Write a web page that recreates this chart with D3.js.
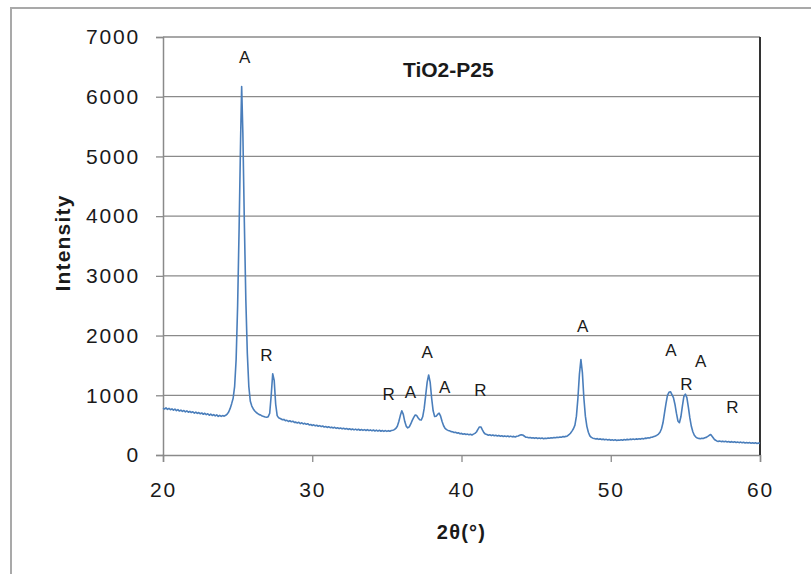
<!DOCTYPE html>
<html>
<head>
<meta charset="utf-8">
<script src="https://cdn.jsdelivr.net/npm/d3@7"></script>
<style>
  html, body { margin: 0; padding: 0; background: #fff; }
  svg { display: block; }
  text { font-family: "Liberation Sans", Arial, sans-serif; fill: #1a1a1a; }
</style>
</head>
<body>
<svg id="chart" width="811" height="574"></svg>
<script>
// XRD scan of TiO2-P25 as [2θ (degrees), intensity (counts)]
const scanPoints = [
  [20.0,785],[20.1,770],[20.2,790],[20.3,765],[20.4,780],[20.5,758],[20.6,772],[20.7,750],[20.8,768],[20.9,744],
  [21.0,760],[21.1,736],[21.2,752],[21.3,731],[21.4,746],[21.5,722],[21.6,738],[21.7,716],[21.8,731],[21.9,711],
  [22.0,724],[22.1,702],[22.2,719],[22.3,696],[22.4,711],[22.5,690],[22.6,704],[22.7,682],[22.8,699],[22.9,676],
  [23.0,690],[23.1,666],[23.2,684],[23.3,661],[23.4,676],[23.5,655],[23.6,671],[23.7,647],[23.8,664],[23.9,646],
  [24.0,660],[24.1,650],[24.2,665],[24.3,685],[24.4,720],[24.5,780],[24.6,860],[24.7,950],[24.8,1150],[24.9,1600],
  [25.0,2500],[25.1,3800],[25.2,5300],[25.27,6170],[25.35,5400],[25.45,3900],[25.55,2600],[25.65,1700],[25.75,1150],
  [25.85,900],[25.95,820],[26.05,772],[26.15,738],[26.25,712],[26.35,694],[26.45,676],[26.55,668],[26.65,652],
  [26.75,646],[26.85,636],[26.95,632],[27.05,642],[27.15,700],[27.25,1000],[27.35,1360],[27.45,1250],[27.55,850],
  [27.65,660],[27.75,622],[27.85,612],[27.95,598],[28.0,590],[28.1,596],[28.2,576],[28.3,582],[28.4,561],[28.5,574],
  [28.6,556],[28.7,566],[28.8,546],[28.9,551],[29.0,536],[29.1,549],[29.2,526],[29.3,539],[29.4,521],[29.5,531],
  [29.6,514],[29.7,524],[29.8,502],[29.9,510],[30.0,495],[30.1,505],[30.2,488],[30.3,498],[30.4,482],[30.5,492],
  [30.6,475],[30.7,486],[30.8,468],[30.9,478],[31.0,462],[31.1,474],[31.2,458],[31.3,466],[31.4,452],[31.5,463],
  [31.6,446],[31.7,456],[31.8,442],[31.9,452],[32.0,438],[32.1,449],[32.2,434],[32.3,444],[32.4,428],[32.5,440],
  [32.6,424],[32.7,436],[32.8,421],[32.9,433],[33.0,418],[33.1,431],[33.2,415],[33.3,428],[33.4,413],[33.5,425],
  [33.6,410],[33.7,424],[33.8,408],[33.9,420],[34.0,405],[34.1,418],[34.2,402],[34.3,416],[34.4,400],[34.5,414],
  [34.6,398],[34.7,411],[34.8,396],[34.9,409],[35.0,395],[35.1,408],[35.2,398],[35.3,410],[35.4,415],[35.5,425],
  [35.6,445],[35.7,480],[35.8,560],[35.9,660],[36.0,740],[36.1,680],[36.2,560],[36.3,480],[36.4,455],[36.5,470],
  [36.6,520],[36.7,580],[36.8,630],[36.9,670],[37.0,660],[37.1,620],[37.2,590],[37.3,585],[37.4,640],[37.5,780],
  [37.6,1000],[37.7,1220],[37.8,1340],[37.9,1220],[38.0,950],[38.1,740],[38.2,645],[38.3,650],[38.4,680],[38.5,700],
  [38.6,650],[38.7,560],[38.8,490],[38.9,445],[39.0,425],[39.1,412],[39.2,405],[39.3,392],[39.4,388],[39.5,376],
  [39.6,382],[39.7,366],[39.8,372],[39.9,355],[40.0,362],[40.1,348],[40.2,356],[40.3,343],[40.4,350],[40.5,338],
  [40.6,348],[40.7,336],[40.8,350],[40.9,362],[41.0,385],[41.1,430],[41.2,470],[41.3,470],[41.4,420],[41.5,375],
  [41.6,350],[41.7,342],[41.8,330],[41.9,338],[42.0,325],[42.1,336],[42.2,322],[42.3,330],[42.4,318],[42.5,328],
  [42.6,314],[42.7,322],[42.8,310],[42.9,320],[43.0,308],[43.1,318],[43.2,305],[43.3,316],[43.4,304],[43.5,312],
  [43.6,302],[43.7,314],[43.8,318],[43.9,330],[44.0,340],[44.1,335],[44.2,318],[44.3,300],[44.4,296],[44.5,288],
  [44.6,294],[44.7,283],[44.8,290],[44.9,279],[45.0,288],[45.1,276],[45.2,285],[45.3,275],[45.4,284],[45.5,273],
  [45.6,282],[45.7,276],[45.8,286],[45.9,280],[46.0,290],[46.1,284],[46.2,294],[46.3,288],[46.4,298],[46.5,292],
  [46.6,302],[46.7,298],[46.8,308],[46.9,304],[47.0,312],[47.1,320],[47.2,340],[47.3,365],[47.4,400],[47.5,440],
  [47.6,500],[47.7,650],[47.8,950],[47.9,1350],[48.0,1600],[48.1,1380],[48.2,950],[48.3,650],[48.4,480],[48.5,380],
  [48.6,320],[48.7,295],[48.8,282],[48.9,276],[49.0,268],[49.1,274],[49.2,262],[49.3,270],[49.4,258],[49.5,266],
  [49.6,254],[49.7,262],[49.8,250],[49.9,259],[50.0,247],[50.1,256],[50.2,245],[50.3,254],[50.4,243],[50.5,252],
  [50.6,246],[50.7,256],[50.8,248],[50.9,260],[51.0,252],[51.1,262],[51.2,255],[51.3,266],[51.4,258],[51.5,268],
  [51.6,260],[51.7,270],[51.8,262],[51.9,272],[52.0,266],[52.1,276],[52.2,270],[52.3,282],[52.4,278],[52.5,290],
  [52.6,286],[52.7,298],[52.8,300],[52.9,310],[53.0,318],[53.1,332],[53.2,350],[53.3,380],[53.4,440],[53.5,540],
  [53.6,700],[53.7,860],[53.8,1000],[53.9,1050],[54.0,1060],[54.1,1010],[54.2,960],[54.3,850],[54.4,700],[54.5,570],
  [54.6,540],[54.7,640],[54.8,820],[54.9,980],[55.0,1020],[55.1,960],[55.2,800],[55.3,620],[55.4,480],[55.5,390],
  [55.6,330],[55.7,300],[55.8,285],[55.9,278],[56.0,272],[56.1,280],[56.2,276],[56.3,288],[56.4,295],[56.5,312],
  [56.6,330],[56.7,342],[56.8,310],[56.9,275],[57.0,250],[57.1,236],[57.2,228],[57.3,234],[57.4,224],[57.5,232],
  [57.6,221],[57.7,229],[57.8,218],[57.9,226],[58.0,215],[58.1,224],[58.2,212],[58.3,221],[58.4,210],[58.5,218],
  [58.6,207],[58.7,216],[58.8,204],[58.9,213],[59.0,202],[59.1,210],[59.2,200],[59.3,208],[59.4,198],[59.5,206],
  [59.6,195],[59.7,204],[59.8,193],[59.9,201],[60.0,195]
];

// Phase markers: A = anatase, R = rutile, anchored at [2θ, intensity]
const peakLabels = ["A","R","R","A","A","A","R","A","A","A","R","R"];
const peakLabelX = [25.49,26.95,35.14,36.6,37.71,38.89,41.29,48.14,54.04,56.05,55.09,58.17];
const peakLabelY = [6665,1675,1022,1055,1730,1134,1089,2160,1754,1579,1189,809];

const xTicks = [20, 30, 40, 50, 60];
const yTicks = [0, 1000, 2000, 3000, 4000, 5000, 6000, 7000];

const chartTitle = "TiO2-P25";
const xTitle = "2θ(°)";
const yTitle = "Intensity";

const svg = d3.select("#chart");
const W = 811, H = 574;
const margin = { left: 163, right: W - 760, top: 37, bottom: H - 455 };

// outer chart frame
svg.append("rect")
  .attr("x", 11).attr("y", 8)
  .attr("width", 840).attr("height", 620)
  .attr("fill", "#fff")
  .attr("stroke", "#a9a9a9")
  .attr("stroke-width", 2);

const x = d3.scaleLinear().domain([20, 60]).range([margin.left, W - margin.right]);
const y = d3.scaleLinear().domain([0, 7000]).range([H - margin.bottom, margin.top]);

// horizontal gridlines
svg.append("g")
  .selectAll("line")
  .data(yTicks.filter(d => d > 0))
  .join("line")
  .attr("x1", x(20)).attr("x2", x(60))
  .attr("y1", d => y(d)).attr("y2", d => y(d))
  .attr("stroke", "#8a8a8a")
  .attr("stroke-width", 1.3);

function styleAxis(g) {
  g.select(".domain").attr("stroke", "#8a8a8a").attr("stroke-width", 1.5);
  g.selectAll(".tick line").attr("stroke", "#8a8a8a").attr("stroke-width", 1.3);
  g.selectAll(".tick text")
    .attr("font-size", 21)
    .attr("letter-spacing", 1.8)
    .attr("fill", "#1a1a1a")
    .attr("font-family", "Liberation Sans, Arial, sans-serif");
}

// y axis
svg.append("g")
  .attr("transform", `translate(${x(20)},0)`)
  .call(d3.axisLeft(y).tickValues(yTicks).tickSize(7).tickPadding(16).tickFormat(d3.format("d")))
  .call(styleAxis);

// x axis
svg.append("g")
  .attr("transform", `translate(0,${y(0)})`)
  .call(d3.axisBottom(x).tickValues(xTicks).tickSize(7).tickPadding(20).tickFormat(d3.format("d")))
  .call(styleAxis);

// right edge of plot area
svg.append("line")
  .attr("x1", x(60)).attr("x2", x(60))
  .attr("y1", y(7000)).attr("y2", y(0))
  .attr("stroke", "#333")
  .attr("stroke-width", 2);

// diffraction trace
svg.append("path")
  .datum(scanPoints)
  .attr("fill", "none")
  .attr("stroke", "#4a7ebb")
  .attr("stroke-width", 1.6)
  .attr("stroke-linejoin", "round")
  .attr("d", d3.line().x(d => x(d[0])).y(d => y(d[1])));

// phase labels
svg.append("g")
  .selectAll("text")
  .data(peakLabels.map((l, i) => ({ l, t: peakLabelX[i], v: peakLabelY[i] })))
  .join("text")
  .attr("x", d => x(d.t))
  .attr("y", d => y(d.v))
  .attr("dy", "0.35em")
  .attr("text-anchor", "middle")
  .attr("font-size", 17)
  .attr("letter-spacing", 0.5)
  .text(d => d.l);

// chart title
svg.append("text")
  .attr("x", 403).attr("y", 77)
  .attr("font-size", 21)
  .attr("font-weight", "bold")
  .text(chartTitle);

// axis titles
svg.append("text")
  .attr("x", (x(20) + x(60)) / 2).attr("y", 539)
  .attr("text-anchor", "middle")
  .attr("font-size", 20)
  .attr("font-weight", "bold")
  .attr("letter-spacing", 1.2)
  .text(xTitle);

svg.append("text")
  .attr("transform", `translate(70,243) rotate(-90)`)
  .attr("text-anchor", "middle")
  .attr("font-size", 21)
  .attr("font-weight", "bold")
  .attr("letter-spacing", 1.2)
  .text(yTitle);
</script>
</body>
</html>
